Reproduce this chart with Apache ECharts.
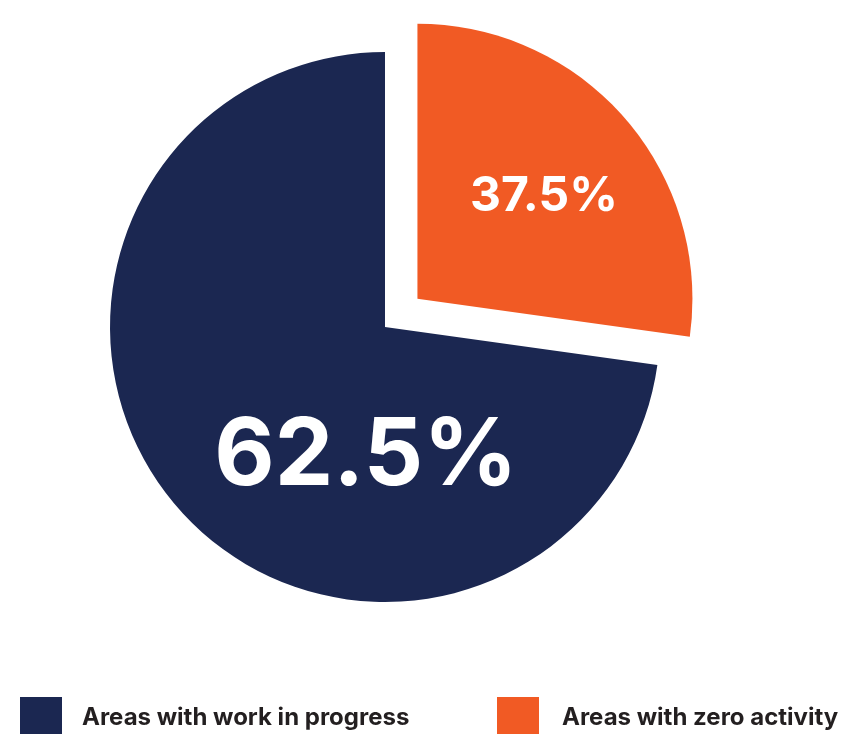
<!DOCTYPE html>
<html>
<head>
<meta charset="utf-8">
<script src="https://cdn.jsdelivr.net/npm/echarts@6/dist/echarts.min.js"></script>
<style>
html,body{margin:0;padding:0;background:#fff;}
#c{width:856px;height:734px;}
</style>
</head>
<body>
<div id="c"></div>
<script>
// Slice names (clockwise from 12 o'clock)
const categories = ['Areas with zero activity', 'Areas with work in progress'];
// Angular shares as drawn in the picture
const sliceShares = [27.2, 72.8];
// Labels printed on the slices
const sliceLabels = ['37.5%', '62.5%'];
const colors = ['#f15a24', '#1b2751'];

const labelStyles = [
  { fontSize: 48, offset: [-11, 16] },
  { fontSize: 93, offset: [87, 38] }
];

const chart = echarts.init(document.getElementById('c'), null, { renderer: 'canvas' });

const data = categories.map((name, i) => {
  const lbl = {
    show: true,
    position: 'inside',
    formatter: sliceLabels[i],
    color: '#ffffff',
    fontFamily: 'Inter',
    fontWeight: 'bold',
    fontSize: labelStyles[i].fontSize,
    offset: labelStyles[i].offset
  };
  return {
    name: name,
    value: sliceShares[i],
    selected: i === 0,
    itemStyle: { color: colors[i] },
    label: lbl,
    select: { label: Object.assign({}, lbl), itemStyle: { color: colors[i] } }
  };
});

const legendBase = {
  orient: 'horizontal',
  top: 697,
  itemWidth: 42,
  itemHeight: 42,
  itemGap: 0,
  icon: 'rect',
  selectedMode: false,
  padding: 0
};
const legendText = { fontFamily: 'Inter', fontWeight: 'bold', fontSize: 24, color: '#231f20' };

chart.setOption({
  animation: false,
  legend: [
    Object.assign({}, legendBase, { left: 20, data: [categories[1]],
      textStyle: Object.assign({ padding: [0, 0, 0, 15] }, legendText) }),
    Object.assign({}, legendBase, { left: 497, data: [categories[0]],
      textStyle: Object.assign({ padding: [0, 0, 0, 18] }, legendText) })
  ],
  series: [{
    type: 'pie',
    center: [385, 327],
    radius: [0, 275],
    startAngle: 90,
    clockwise: true,
    selectedMode: 'single',
    selectedOffset: 43,
    labelLine: { show: false },
    emphasis: { disabled: true },
    data: data
  }]
});
</script>
</body>
</html>
